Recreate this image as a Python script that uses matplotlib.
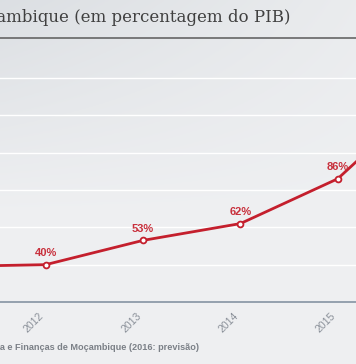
import numpy as np
import matplotlib
matplotlib.use("Agg")
import matplotlib.pyplot as plt

years = [2011, 2012, 2013, 2014, 2015, 2016]
debt = [39, 40, 53, 62, 86, 134]
labels = ["39%", "40%", "53%", "62%", "86%", "134%"]
tick_years = [2011, 2012, 2013, 2014, 2015, 2016]
tick_labels = ["2011", "2012", "2013", "2014", "2015", "2016"]
grid_values = [40, 60, 80, 100, 120, 140]
title = "Dívida pública de Moçambique (em percentagem do PIB)"
source = "Fonte: Ministério da Economia e Finanças de Moçambique (2016: previsão)"

W, H = 356, 364
fig = plt.figure(figsize=(W / 100, H / 100), dpi=100)

# background gradient
bg = fig.add_axes([0, 0, 1, 1])
bg.set_axis_off()
yy, xx = np.mgrid[0:1:200j, 0:1:200j]
top_l = np.array([0.862, 0.875, 0.890])
top_r = np.array([0.918, 0.925, 0.933])
bot = np.array([0.937, 0.941, 0.949])
ty = np.clip(yy / 0.6, 0, 1)[..., None]
tx = xx[..., None]
top = top_l * (1 - tx) + top_r * tx
img = top * (1 - ty) + bot * ty
bg.imshow(img, extent=[0, 1, 0, 1], aspect="auto", origin="upper", zorder=0)
bg.set_xlim(0, 1)
bg.set_ylim(0, 1)

# title and separator
fig.text(290 / W, 1 - 17 / H, title, ha="right", va="center",
         family="DejaVu Serif", fontsize=12.0, color="#404040")
fig.add_artist(plt.Line2D([0, 1], [1 - 38 / H, 1 - 38 / H], color="#5a5a5a", lw=1.1))

# main axes
ax_bottom = (H - 302) / H
ax_height = (302 - 40) / H
ax = fig.add_axes([0, ax_bottom, 1, ax_height])
ax.patch.set_alpha(0)

for g in grid_values:
    ax.axhline(g, color="white", lw=1.0, zorder=1)

ax.plot(years, debt, color="#c41f2d", lw=2.0, zorder=3,
        marker="o", markersize=4.2, markerfacecolor="white",
        markeredgecolor="#c41f2d", markeredgewidth=1.3)
for x, y, t in zip(years, debt, labels):
    ax.annotate(t, (x, y), xytext=(0, 8.5), textcoords="offset points",
                ha="center", va="center", fontsize=8.0, fontweight="bold",
                color="#c8303c", family="Liberation Sans", zorder=4,
                annotation_clip=True)

for s in ["top", "left", "right"]:
    ax.spines[s].set_visible(False)
ax.spines["bottom"].set_color("#8593a2")
ax.spines["bottom"].set_linewidth(1.2)
ax.set_yticks([])
ax.set_xticks(tick_years)
ax.set_xticklabels(tick_labels, rotation=45, ha="right", fontsize=7.6,
                   color="#8a9099", family="Liberation Sans")
ax.tick_params(axis="x", length=0, pad=6.0)

px_per_year = 97.33
ax.set_xlim(2012 - 45.7 / px_per_year, 2015 + 18.3 / px_per_year)
ax.set_ylim(20, 20 + 262 / 1.867)

fig.text(199 / W, 1 - 347 / H, source, ha="right", va="center",
         fontsize=6.6, fontweight="bold", color="#7b8087", family="Liberation Sans")

fig.savefig("out.png", dpi=100)
